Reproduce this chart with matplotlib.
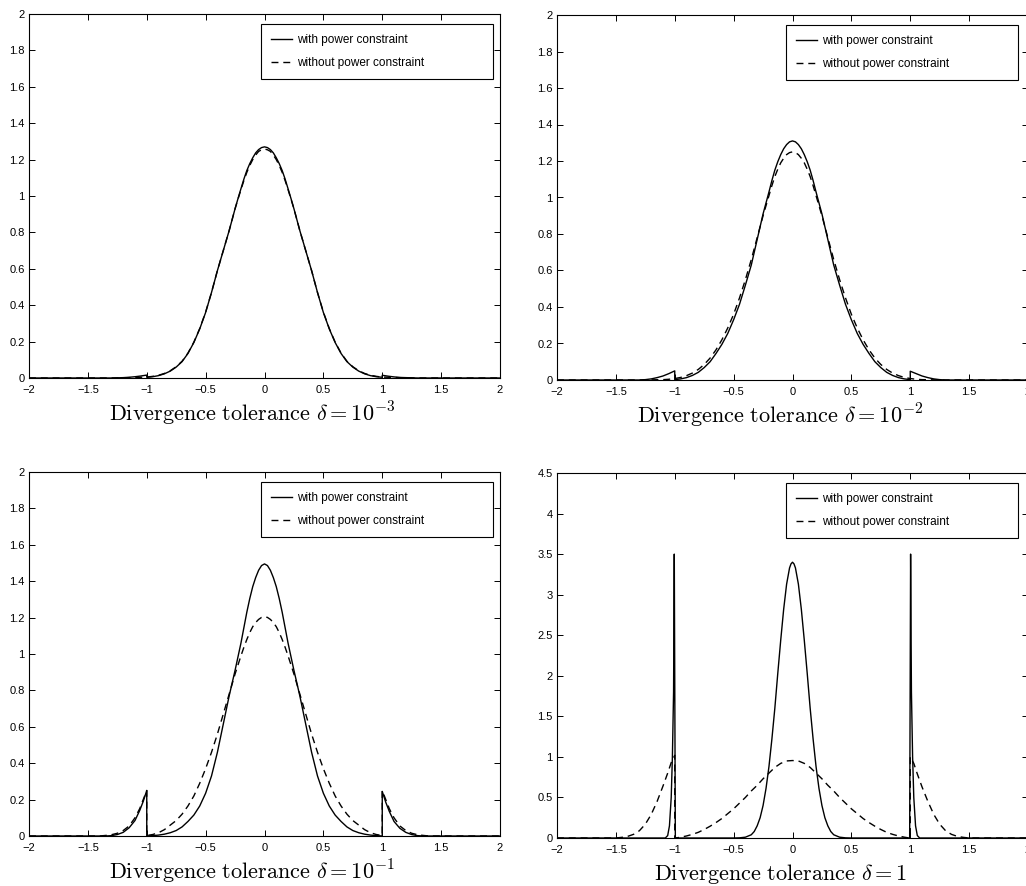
import matplotlib
matplotlib.use("Agg")
import matplotlib.pyplot as plt
from matplotlib.ticker import FuncFormatter

plt.rcParams['font.family'] = ['Liberation Sans', 'DejaVu Sans']
plt.rcParams['mathtext.fontset'] = 'cm'

# ---------------- data ----------------
x_core = [-0.95, -0.9, -0.85, -0.8, -0.75, -0.7, -0.65, -0.6, -0.55, -0.5,
          -0.45, -0.4, -0.35, -0.3, -0.25, -0.225, -0.2, -0.175, -0.15, -0.125,
          -0.1, -0.075, -0.05, -0.025, 0.0, 0.025, 0.05, 0.075, 0.1, 0.125,
          0.15, 0.175, 0.2, 0.225, 0.25, 0.3, 0.35, 0.4, 0.45, 0.5,
          0.55, 0.6, 0.65, 0.7, 0.75, 0.8, 0.85, 0.9, 0.95]

# Panel 1: delta = 1e-3
p1_with_xl = [-2.0, -1.3, -1.25, -1.2, -1.15, -1.1, -1.05, -1.0, -1.0]
p1_with_yl = [0.0, 0.0, 0.001, 0.002, 0.004, 0.007, 0.011, 0.016, 0.004]
p1_with_core = [0.007, 0.013, 0.023, 0.038, 0.06, 0.09, 0.135, 0.195, 0.27, 0.36,
                0.47, 0.59, 0.70, 0.81, 0.93, 0.986, 1.04, 1.093, 1.14, 1.178,
                1.21, 1.237, 1.255, 1.266, 1.27, 1.266, 1.255, 1.237, 1.21, 1.178,
                1.14, 1.093, 1.04, 0.986, 0.93, 0.81, 0.70, 0.59, 0.47, 0.36,
                0.27, 0.195, 0.135, 0.09, 0.06, 0.038, 0.023, 0.013, 0.007]
p1_with_xr = [1.0, 1.0, 1.05, 1.1, 1.15, 1.2, 1.25, 1.3, 2.0]
p1_with_yr = [0.004, 0.015, 0.010, 0.006, 0.003, 0.002, 0.001, 0.0, 0.0]

p1_wo_xl = [-2.0, -1.3, -1.2, -1.1, -1.0]
p1_wo_yl = [0.0, 0.0, 0.001, 0.003, 0.005]
p1_wo_core = [0.009, 0.015, 0.025, 0.04, 0.062, 0.092, 0.137, 0.197, 0.272, 0.362,
              0.47, 0.59, 0.70, 0.81, 0.93, 0.983, 1.035, 1.085, 1.13, 1.168,
              1.20, 1.225, 1.245, 1.254, 1.258, 1.254, 1.245, 1.225, 1.20, 1.168,
              1.13, 1.085, 1.035, 0.983, 0.93, 0.81, 0.70, 0.59, 0.47, 0.362,
              0.272, 0.197, 0.137, 0.092, 0.062, 0.04, 0.025, 0.015, 0.009]
p1_wo_xr = [1.0, 1.1, 1.2, 1.3, 2.0]
p1_wo_yr = [0.005, 0.003, 0.001, 0.0, 0.0]

# Panel 2: delta = 1e-2
p2_with_xl = [-2.0, -1.3, -1.25, -1.2, -1.15, -1.1, -1.05, -1.0, -1.0]
p2_with_yl = [0.0, 0.0, 0.002, 0.006, 0.013, 0.022, 0.035, 0.05, 0.002]
p2_with_core = [0.006, 0.013, 0.025, 0.042, 0.068, 0.10, 0.145, 0.195, 0.255, 0.33,
                0.415, 0.52, 0.63, 0.77, 0.91, 0.97, 1.03, 1.093, 1.15, 1.196,
                1.235, 1.267, 1.29, 1.305, 1.31, 1.305, 1.29, 1.267, 1.235, 1.196,
                1.15, 1.093, 1.03, 0.97, 0.91, 0.77, 0.63, 0.52, 0.415, 0.33,
                0.255, 0.195, 0.145, 0.10, 0.068, 0.042, 0.025, 0.013, 0.006]
p2_with_xr = [1.0, 1.0, 1.05, 1.1, 1.15, 1.2, 1.25, 1.3, 2.0]
p2_with_yr = [0.002, 0.048, 0.035, 0.022, 0.013, 0.006, 0.002, 0.0, 0.0]

p2_wo_xl = [-2.0, -1.3, -1.2, -1.1, -1.05, -1.0]
p2_wo_yl = [0.0, 0.0, 0.001, 0.002, 0.004, 0.008]
p2_wo_core = [0.014, 0.024, 0.038, 0.058, 0.085, 0.12, 0.165, 0.22, 0.285, 0.36,
              0.45, 0.55, 0.66, 0.78, 0.90, 0.955, 1.01, 1.065, 1.115, 1.155,
              1.19, 1.215, 1.235, 1.246, 1.25, 1.246, 1.235, 1.215, 1.19, 1.155,
              1.115, 1.065, 1.01, 0.955, 0.90, 0.78, 0.66, 0.55, 0.45, 0.36,
              0.285, 0.22, 0.165, 0.12, 0.085, 0.058, 0.038, 0.024, 0.014]
p2_wo_xr = [1.0, 1.05, 1.1, 1.2, 1.3, 2.0]
p2_wo_yr = [0.008, 0.004, 0.002, 0.001, 0.0, 0.0]

# Panel 3: delta = 1e-1
p3_with_xl = [-2.0, -1.35, -1.3, -1.25, -1.2, -1.15, -1.1, -1.06, -1.03, -1.0, -1.0]
p3_with_yl = [0.0, 0.0, 0.002, 0.008, 0.02, 0.045, 0.085, 0.14, 0.19, 0.25, 0.0]
p3_with_core = [0.002, 0.005, 0.01, 0.018, 0.03, 0.05, 0.08, 0.115, 0.165, 0.235,
                0.33, 0.46, 0.615, 0.77, 0.91, 0.985, 1.06, 1.145, 1.23, 1.305,
                1.37, 1.42, 1.46, 1.486, 1.495, 1.486, 1.46, 1.42, 1.37, 1.305,
                1.23, 1.145, 1.06, 0.985, 0.91, 0.77, 0.615, 0.46, 0.33, 0.235,
                0.165, 0.115, 0.08, 0.05, 0.03, 0.018, 0.01, 0.005, 0.002]
p3_with_xr = [1.0, 1.0, 1.03, 1.06, 1.1, 1.15, 1.2, 1.25, 1.3, 1.35, 2.0]
p3_with_yr = [0.0, 0.245, 0.185, 0.135, 0.08, 0.042, 0.02, 0.008, 0.002, 0.0, 0.0]

p3_wo_xl = [-2.0, -1.4, -1.35, -1.3, -1.25, -1.2, -1.15, -1.1, -1.06, -1.03, -1.0, -1.0]
p3_wo_yl = [0.0, 0.0, 0.003, 0.007, 0.015, 0.03, 0.055, 0.10, 0.15, 0.20, 0.25, 0.003]
p3_wo_core = [0.008, 0.018, 0.035, 0.06, 0.085, 0.12, 0.165, 0.22, 0.29, 0.37,
              0.46, 0.56, 0.67, 0.78, 0.89, 0.94, 0.99, 1.037, 1.08, 1.118,
              1.15, 1.173, 1.19, 1.201, 1.205, 1.201, 1.19, 1.173, 1.15, 1.118,
              1.08, 1.037, 0.99, 0.94, 0.89, 0.78, 0.67, 0.56, 0.46, 0.37,
              0.29, 0.22, 0.165, 0.12, 0.085, 0.06, 0.035, 0.018, 0.008]
p3_wo_xr = [1.0, 1.0, 1.03, 1.06, 1.1, 1.15, 1.2, 1.25, 1.3, 1.35, 1.4, 2.0]
p3_wo_yr = [0.003, 0.25, 0.20, 0.15, 0.10, 0.055, 0.03, 0.015, 0.007, 0.003, 0.0, 0.0]

# Panel 4: delta = 1
p4_with_x = [-2.0, -1.08, -1.06, -1.045, -1.03, -1.02, -1.01, -1.004, -0.995,
             -0.5, -0.45, -0.4, -0.35, -0.325, -0.3, -0.275, -0.25, -0.225, -0.2,
             -0.175, -0.15, -0.125, -0.1, -0.075, -0.05, -0.0375, -0.025, -0.0125, 0.0,
             0.0125, 0.025, 0.0375, 0.05, 0.075, 0.1, 0.125, 0.15, 0.175, 0.2, 0.225, 0.25,
             0.275, 0.3, 0.325, 0.35, 0.4, 0.45, 0.5,
             0.995, 1.003, 1.01, 1.02, 1.03, 1.045, 1.06, 1.08, 2.0]
p4_with_y = [0.0, 0.0, 0.03, 0.15, 0.5, 1.0, 1.8, 3.5, 0.0,
             0.0, 0.002, 0.01, 0.04, 0.08, 0.15, 0.25, 0.40, 0.61, 0.88,
             1.22, 1.60, 2.03, 2.44, 2.82, 3.13, 3.23, 3.33, 3.38, 3.40,
             3.38, 3.33, 3.23, 3.13, 2.82, 2.44, 2.03, 1.60, 1.22, 0.88, 0.61, 0.40,
             0.25, 0.15, 0.08, 0.04, 0.01, 0.002, 0.0,
             0.0, 3.5, 1.8, 1.0, 0.5, 0.15, 0.03, 0.0, 0.0]

p4_wo_x = [-2.0, -1.5, -1.45, -1.4, -1.35, -1.3, -1.25, -1.2, -1.15, -1.1, -1.06, -1.03, -1.0, -1.0,
           -0.98, -0.95, -0.9, -0.85, -0.8, -0.75, -0.7, -0.65, -0.6, -0.55, -0.5,
           -0.45, -0.4, -0.35, -0.3, -0.25, -0.2, -0.15, -0.1, -0.05, 0.0,
           0.05, 0.1, 0.15, 0.2, 0.25, 0.3, 0.35, 0.4, 0.45, 0.5,
           0.55, 0.6, 0.65, 0.7, 0.75, 0.8, 0.85, 0.9, 0.95, 0.98,
           1.0, 1.0, 1.03, 1.06, 1.1, 1.15, 1.2, 1.25, 1.3, 1.35, 1.4, 1.45, 1.5, 2.0]
p4_wo_y = [0.0, 0.0, 0.008, 0.02, 0.045, 0.09, 0.17, 0.29, 0.45, 0.64, 0.80, 0.93, 1.02, 0.0,
           0.003, 0.01, 0.025, 0.045, 0.07, 0.105, 0.145, 0.19, 0.24, 0.30, 0.36,
           0.43, 0.50, 0.58, 0.65, 0.73, 0.80, 0.87, 0.92, 0.95, 0.955,
           0.95, 0.92, 0.87, 0.80, 0.73, 0.65, 0.58, 0.50, 0.43, 0.36,
           0.30, 0.24, 0.19, 0.145, 0.105, 0.07, 0.045, 0.025, 0.01, 0.003,
           0.0, 1.0, 0.92, 0.79, 0.63, 0.45, 0.29, 0.17, 0.09, 0.045, 0.02, 0.008, 0.0, 0.0]

labels = ["with power constraint", "without power constraint"]
xlabels = [r"$\mathrm{Divergence\ tolerance}\ \delta = 10^{-3}$",
           r"$\mathrm{Divergence\ tolerance}\ \delta = 10^{-2}$",
           r"$\mathrm{Divergence\ tolerance}\ \delta = 10^{-1}$",
           r"$\mathrm{Divergence\ tolerance}\ \delta = 1$"]
x_ticks = [-2, -1.5, -1, -0.5, 0, 0.5, 1, 1.5, 2]
y_ticks_small = [0, 0.2, 0.4, 0.6, 0.8, 1, 1.2, 1.4, 1.6, 1.8, 2]
y_ticks_big = [0, 0.5, 1, 1.5, 2, 2.5, 3, 3.5, 4, 4.5]

# ---------------- assemble series ----------------
def join(xl, yl, core, xr, yr):
    return xl + x_core + xr, yl + core + yr

series = [
    (join(p1_with_xl, p1_with_yl, p1_with_core, p1_with_xr, p1_with_yr),
     join(p1_wo_xl, p1_wo_yl, p1_wo_core, p1_wo_xr, p1_wo_yr)),
    (join(p2_with_xl, p2_with_yl, p2_with_core, p2_with_xr, p2_with_yr),
     join(p2_wo_xl, p2_wo_yl, p2_wo_core, p2_wo_xr, p2_wo_yr)),
    (join(p3_with_xl, p3_with_yl, p3_with_core, p3_with_xr, p3_with_yr),
     join(p3_wo_xl, p3_wo_yl, p3_wo_core, p3_wo_xr, p3_wo_yr)),
    ((p4_with_x, p4_with_y), (p4_wo_x, p4_wo_y)),
]

W, H = 1026, 886
fig = plt.figure(figsize=(W / 100, H / 100), dpi=100)

# axes boxes in pixels: left, top, right, bottom
boxes = [(29, 14, 500, 378), (557, 15, 1028, 380),
         (29, 472, 500, 836), (557, 473, 1028, 838)]
ylims = [2, 2, 2, 4.5]
yticks = [y_ticks_small, y_ticks_small, y_ticks_small, y_ticks_big]

fmt = FuncFormatter(lambda v, p: ("%g" % v).replace("-", "\u2212"))

for i, (l, t, r, b) in enumerate(boxes):
    ax = fig.add_axes([l / W, (H - b) / H, (r - l) / W, (b - t) / H])
    (xw, yw), (xo, yo) = series[i]
    ax.plot(xw, yw, color='black', lw=1.0, label=labels[0])
    ax.plot(xo, yo, color='black', lw=1.0, linestyle=(0, (5, 3.5)), label=labels[1])
    ax.set_xlim(-2, 2)
    ax.set_ylim(0, ylims[i])
    ax.set_xticks(x_ticks)
    ax.set_yticks(yticks[i])
    ax.xaxis.set_major_formatter(fmt)
    ax.yaxis.set_major_formatter(fmt)
    ax.tick_params(direction='in', length=4, width=0.7, top=True, right=True,
                   labelsize=8, colors='black')
    ax.tick_params(axis='x', pad=5)
    ax.tick_params(axis='y', pad=3)
    for s in ax.spines.values():
        s.set_linewidth(0.8)
    ax.set_xlabel(xlabels[i], fontsize=16)
    ax.xaxis.set_label_coords(0.474, -0.098)
    ax.xaxis.label.set_verticalalignment('center')
    leg_left = (261 - 29) / 471 if i % 2 == 0 else (786 - 557) / 471
    leg = ax.legend(loc='upper left', bbox_to_anchor=(leg_left, 0, 0.493, 0.972),
                    mode='expand', fontsize=8.5, frameon=True, fancybox=False,
                    edgecolor='black', framealpha=1, handlelength=1.8,
                    handletextpad=0.4, borderpad=0.85, labelspacing=0.9,
                    borderaxespad=0)
    leg.get_frame().set_linewidth(0.8)

fig.savefig("out.png", dpi=100)
